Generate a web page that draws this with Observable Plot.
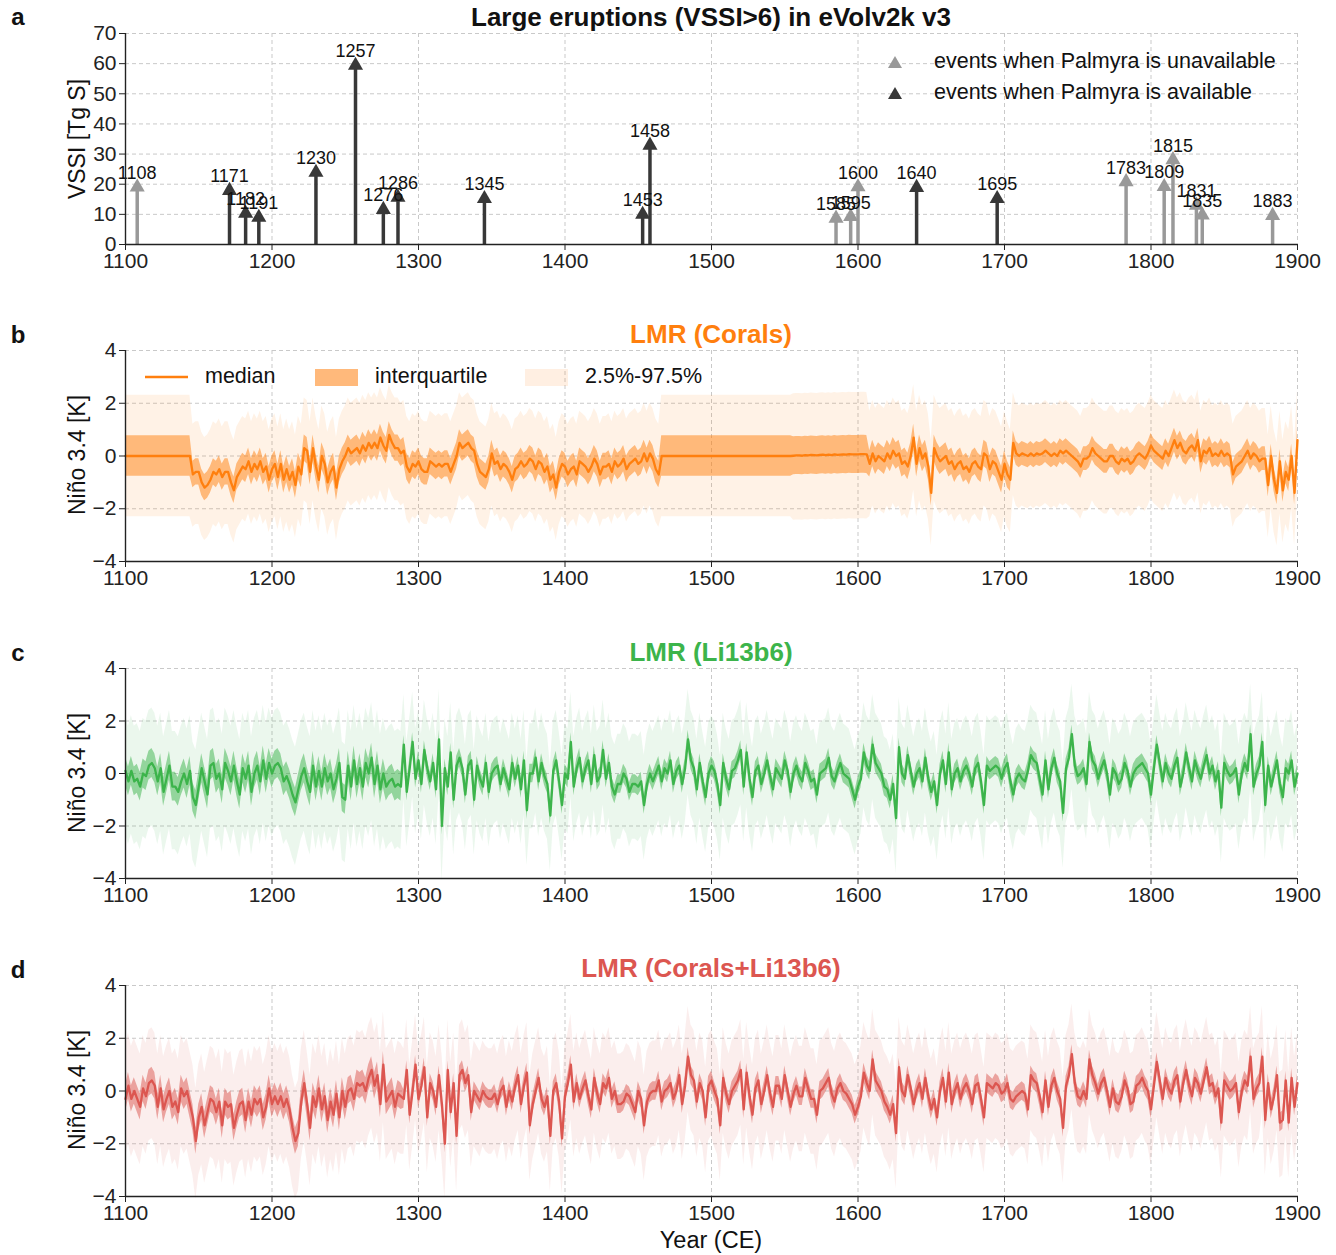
<!DOCTYPE html>
<html><head><meta charset="utf-8">
<script src="https://cdn.jsdelivr.net/npm/d3@7"></script>
<script src="https://cdn.jsdelivr.net/npm/@observablehq/plot@0.6"></script>
<style>
body{margin:0;background:#fff;font-family:"Liberation Sans",Arial,Helvetica,sans-serif;}
#root{position:relative;width:1336px;height:1255px;overflow:hidden;background:#fff;}
.abs{position:absolute;white-space:nowrap;line-height:1;}
.panel{position:absolute;left:0;}
.plabel{font-weight:bold;font-size:24px;color:#111;transform:translate(-50%,-50%);}
.title{font-weight:bold;font-size:26px;transform:translate(-50%,-50%);}
.ylab{font-size:23px;color:#111;transform:translate(-50%,-50%) rotate(-90deg);}
.leg{font-size:21.5px;color:#111;transform:translateY(-50%);}
.xlab{font-size:23.5px;color:#111;transform:translate(-50%,-50%);}
</style></head><body><div id="root"></div>
<script>
// ---------- Panel a: large eruptions ----------
const eruptYears = [1108,1171,1182,1191,1230,1257,1276,1286,1345,1453,1458,1585,1595,1600,1640,1695,1783,1809,1815,1831,1835,1883];
const eruptVSSI  = [19.0,17.9,10.3,9.0,23.9,59.4,11.6,15.6,15.2,10.0,32.9,8.7,9.2,19.1,18.9,15.2,20.8,19.2,28.1,13.0,9.7,9.6];
const palmyraAvailable = [false,true,true,true,true,true,true,true,true,true,true,false,false,false,true,true,false,false,false,false,false,false];

// ---------- Time axis for reconstructions (every 2 years) ----------
const yearStart = 1100, yearEnd = 1900, yearStep = 2;
const xTicks = [1100,1200,1300,1400,1500,1600,1700,1800,1900];
const yTicksA = [0,10,20,30,40,50,60,70];
const yTicksN = [-4,-2,0,2,4];

// LMR (Corals) median
const coralsMedian = [
0,0,0,0,0, 0,0,0,0,0, 0,0,0,0,0, 0,0,0,0,0, 0,0,0,-0.7,-0.6,
-0.6,-1.0,-1.2,-1.1,-0.9, -0.6,-0.7,-0.5,-0.8,-0.6, -0.6,-1.0,-1.3,-0.8,-0.6, -0.4,-0.5,-0.2,-0.6,-0.3, -0.5,-0.2,-0.6,-0.4,-0.9,
-0.5,-0.3,-0.8,-0.3,-0.9, -0.5,-0.9,-0.6,-1.1,-0.4, -0.7,0.3,0.2,-0.6,0.3, -0.4,-0.9,0.0,-0.3,-1.0, -0.6,-0.4,-1.2,-0.5,-0.2,
0.0,0.3,0.1,0.2,0.3, 0.1,0.4,0.2,0.5,0.3, 0.5,0.3,0.7,0.4,0.2, 0.8,0.5,0.3,0.3,0.1, 0.2,-0.4,-0.6,-0.3,-0.4,
-0.2,-0.5,-0.6,-0.6,-0.2, -0.3,-0.4,-0.3,-0.4,-0.3, -0.3,-0.6,-0.3,0.0,0.5, 0.3,0.4,0.5,0.3,0.2, -0.3,-0.6,-0.7,-0.8,-0.5,
0.1,-0.3,-0.2,-0.5,-0.3, -0.4,-0.6,-0.9,-0.5,-0.4, -0.2,-0.4,-0.3,-0.1,-0.2, -0.5,-0.2,-0.3,-0.6,-0.4, -0.9,-0.7,-1.2,-0.6,-0.3,
-0.4,-0.7,-0.5,-0.4,-0.7, -0.2,-0.3,-0.4,-0.6,-0.4, -0.1,-0.3,-0.7,-0.4,-0.4, -0.3,-0.6,-0.2,-0.4,-0.3, -0.1,-0.5,-0.3,-0.2,-0.1,
-0.3,-0.2,0.1,-0.2,0.1, -0.1,-0.5,-0.7,0,0,
0,0,0,0,0, 0,0,0,0,0, 0,0,0,0,0, 0,0,0,0,0, 0,0,0,0,0, 0,0,0,0,0, 0,0,0,0,0, 0,0,0,0,0,
0,0,0,0.01,0.02, 0.02,0.01,0.03,0.02,0.04, 0.03,0.02,0.04,0.05,0.03, 0.05,0.03,0.06,0.04,0.05, 0.06,0.05,0.07,0.06,0.06,
0.06,0.07,0.07,0.06,-0.3, 0.1,-0.2,0.0,-0.1,-0.2, 0.1,-0.1,0.2,0.0,0.1, -0.3,-0.2,-0.4,0.0,0.7, -0.3,0.3,-0.1,0.1,-0.4,
-1.4,0.3,0.0,-0.2,-0.1, 0.0,-0.3,-0.2,-0.5,-0.3, -0.2,-0.5,-0.4,-0.6,-0.3, -0.2,-0.4,-0.5,0.1,0.0, -0.5,-0.2,-0.3,-0.6,-0.9,
-0.3,-0.7,-0.9,0.5,0.1, 0.0,0.1,0.05,0.0,0.1, 0.0,0.1,0.05,0.1,0.2, 0.1,0.0,0.1,0.0,0.2, 0.1,0.2,0.1,0.0,-0.1,
-0.2,-0.4,-0.1,-0.1,0.0, 0.3,0.1,0.0,-0.1,-0.2, -0.2,0.0,0.0,-0.2,-0.3, -0.1,-0.2,-0.1,-0.3,-0.2, 0.0,0.1,0.0,-0.1,0.1,
0.4,0.2,0.1,0.0,-0.1, 0.2,0.0,0.3,0.6,0.3, 0.5,0.2,0.1,0.3,0.4, 0.2,0.6,-0.2,0.2,0.1, 0.3,0.0,0.1,0.0,0.2,
0.0,0.1,0.0,-0.7,-0.4, -0.3,-0.2,0.0,0.2,-0.1, 0.1,0.0,-0.2,-0.1,-0.1, -1.1,0.0,-0.9,-1.4,-0.2, -1.3,-0.6,-0.9,0.0,-1.4,
0.6];
// Corals band half-widths by period (start years)
const coralsSegStart = [1100,1146,1466,1556,1608,1704];
const coralsIqrHalf  = [0.77,0.5,0.77,0.72,0.5,0.45];
const coralsHi95     = [2.3,1.9,2.3,2.35,2.0,1.9];
const coralsLo95     = [2.3,2.0,2.3,2.45,2.0,2.0];

// LMR (Li13b6) median
const liMedian = [
0.1,-0.3,0.1,-0.3,-0.2, -0.5,0.0,-0.1,0.3,0.4, 0.2,-0.3,0.2,-0.7,-0.2, 0.3,-0.5,-0.5,-0.7,-0.3, 0.0,-0.4,0.1,-0.9,-1.2,
-0.5,0.2,-0.3,-0.8,0.3, 0.4,-0.2,0.0,-0.6,0.4, 0.1,-0.3,0.3,-0.3,-0.8, 0.2,-0.2,0.3,-0.7,0.0, 0.3,-0.3,0.5,-0.2,0.4,
0.0,0.3,0.4,0.2,-0.3, -0.1,-0.4,-0.8,-1.1,-0.6, -0.1,0.2,-0.3,-0.7,0.3, -0.5,0.1,-0.5,0.2,-0.3, 0.0,-0.6,-0.2,0.4,-0.9,
-1.0,0.3,-0.5,0.5,-0.4, 0.2,-0.5,0.4,0.0,0.6, -0.4,0.3,-0.6,0.0,-0.5, -0.3,-0.2,-0.5,-0.4,-0.5, 1.1,-0.7,0.2,1.2,-0.2,
0.5,-0.4,0.9,0.2,-0.3, 0.4,-0.6,1.3,-2.0,0.2, -0.5,0.8,-1.0,0.3,0.6, 0.2,-0.8,0.3,0.5,-1.0, 0.3,-0.2,-0.5,0.4,-0.7,
0.0,0.2,0.3,-0.4,0.2, -0.2,-0.6,0.4,-0.2,0.3, -0.6,0.5,-1.4,0.0,0.0, 0.6,-0.3,0.4,-0.1,-0.4, -1.6,0.1,0.5,-0.3,-1.2,
0.0,-0.2,1.2,-0.5,0.2, 0.6,-0.3,0.2,0.5,-0.4, 0.7,-0.3,-0.1,0.9,-0.2, 0.4,-0.5,-0.8,-0.4,-0.4, 0.0,-0.2,-0.7,-0.4,-0.4,
-0.5,-0.3,-1.2,-0.4,0.0, -0.3,0.0,0.3,-0.3,0.2, 0.0,0.5,-0.4,0.1,0.3, -0.4,0.2,1.3,0.5,0.2, -0.6,0.4,-0.3,-0.9,0.0,
0.3,0.1,-0.4,-1.2,0.4, -0.2,-0.6,0.1,0.2,0.5, 0.9,-0.5,0.8,-0.2,-0.9, 0.1,0.3,-0.4,0.0,0.5, -0.1,-0.6,0.2,0.0,-0.2,
0.5,0.1,-0.7,0.0,0.3, -0.1,-0.3,0.4,0.1,-0.3, -0.2,-0.8,0.0,0.1,0.2, 0.6,-0.1,-0.3,0.1,0.4, 0.0,-0.1,-0.2,-0.6,-1.0,
-0.5,-0.2,0.8,0.3,0.1, 1.1,0.4,0.2,0.0,-0.5, -0.6,-1.0,-0.4,-1.7,1.0, 0.0,-0.2,0.7,0.1,-0.5, 0.0,0.2,-0.3,0.6,-0.2,
-0.7,-0.3,-1.2,0.0,0.5, -0.4,0.8,-0.6,0.0,0.2, -0.3,0.1,0.3,0.0,-0.5, 0.2,0.4,-0.3,-1.2,0.3, 0.1,0.2,0.3,0.2,-0.2,
0.2,0.4,-0.3,-0.8,-0.2, 0.0,-0.2,-0.3,0.1,0.7, 0.5,0.4,-0.2,-0.8,0.5, -0.6,0.2,0.6,0.0,-0.3, -1.5,0.2,0.6,1.5,0.3,
-0.1,0.0,0.2,-0.4,1.2, 0.5,0.3,-0.2,0.2,0.5, 0.0,-0.8,0.2,0.0,-0.4, -0.2,0.4,0.1,-0.5,0.0, 0.2,0.3,0.4,0.2,0.0,
-0.8,0.2,1.1,0.4,-0.3, 0.4,0.0,-0.2,0.3,0.6, -0.5,0.0,0.8,0.2,-0.3, 0.5,0.1,-0.2,0.3,0.7, 0.0,0.3,-0.3,0.1,-1.3,
0.4,0.1,-0.1,0.0,0.2, -0.8,0.0,0.4,0.1,1.5, -0.5,0.0,0.3,1.2,-1.2, 0.3,-0.5,0.0,0.5,-0.4, -0.9,0.2,0.0,0.5,-0.5,
0.0];
const liSegStart = [1100,1290];
const liIqrHalf  = [0.55,0.35];
const liHi95     = [2.1,1.9];
const liLo95     = [2.4,2.1];

// LMR (Corals+Li13b6) median
const bothMedian = [
-0.3,0.2,-0.3,0.0,-0.3, -0.6,0.1,-0.2,0.3,0.4, 0.2,-0.6,0.1,-0.7,-0.3, 0.0,-0.6,-0.4,-0.8,0.1, -0.2,0.0,-0.5,-1.0,-1.9,
-1.0,-0.6,-1.3,-0.8,-0.3, -0.4,-0.8,-0.4,-1.3,-0.4, -0.6,-0.5,-1.4,-0.9,-0.5, -0.4,-1.1,-0.4,-0.9,-0.3, -0.5,-0.3,-1.0,-0.6,0.1,
-0.5,-0.2,-0.5,-0.2,-0.6, -0.3,-0.7,-1.4,-1.9,-1.6, -0.4,0.3,-0.5,-1.4,-0.2, -0.6,0.1,-0.7,-0.2,-1.1, -0.4,-0.9,-0.1,-1.0,0.0,
-0.6,0.0,0.1,-0.3,0.3, 0.2,0.3,0.0,0.5,0.8, 0.2,0.6,-0.5,1.0,-0.4, -0.2,0.0,-0.6,-0.1,-0.2, -0.3,0.8,-0.9,0.0,1.0,
-0.3,0.2,0.9,-1.0,0.3, 0.0,-0.6,0.6,-0.5,-2.0, 0.8,-0.8,0.3,-1.7,0.6, 0.8,0.3,0.6,-0.8,0.0, -0.2,-0.4,0.0,-0.2,-0.3,
-0.3,-0.1,-0.5,0.0,0.2, -0.6,0.0,-0.4,0.2,0.6, -0.5,0.2,0.7,-1.3,-0.5, 0.0,0.5,-0.3,-0.6,-0.2, -1.7,0.0,0.3,-0.4,-1.8,
-0.2,0.3,1.0,-0.4,0.3, -0.3,0.1,0.4,-0.2,-0.7, 0.5,-0.1,-0.5,0.3,0.1, 0.5,-0.3,0.0,-0.5,-0.5, -0.4,-0.1,-0.2,-0.5,-0.8,
0.0,-0.3,-1.3,-0.4,-0.1, 0.0,0.0,0.4,-0.4,0.0, 0.1,0.3,-0.3,0.0,0.6, -0.5,0.2,1.3,0.6,0.4, -0.4,0.3,0.0,-1.0,0.2,
0.4,0.0,-0.3,-1.3,0.5, -0.1,-0.5,0.0,0.2,0.4, 0.8,-0.7,0.7,-0.2,-0.9, 0.1,0.4,-0.5,0.0,0.6, -0.1,-0.6,0.2,0.2,-0.3,
0.6,0.0,-0.6,-0.1,0.2, -0.2,-0.2,0.5,0.1,-0.3, -0.3,-0.9,0.0,0.1,0.3, 0.5,-0.1,-0.4,0.1,0.3, 0.0,-0.1,-0.3,-0.5,-0.9,
-0.6,-0.2,0.7,0.3,0.0, 1.2,0.4,0.2,0.0,-0.4, -0.6,-0.9,-0.5,-1.6,0.9, 0.0,-0.2,0.6,0.1,-0.5, 0.0,0.3,-0.3,0.5,-0.2,
-0.7,-0.3,-1.0,0.0,0.5, -0.4,0.7,-0.5,0.0,0.3, -0.3,0.1,0.3,0.0,-0.5, 0.2,0.3,-0.3,-1.0,0.3, 0.2,0.1,0.3,0.2,-0.1,
0.0,0.3,-0.3,-0.4,-0.2, -0.1,0.0,-0.1,-0.7,0.6, 0.4,0.3,-0.2,-0.8,0.4, -0.6,0.2,0.5,0.0,-0.3, -1.4,0.2,0.6,1.4,0.3,
-0.2,-0.3,0.0,-0.3,1.2, 0.6,0.3,-0.1,0.3,0.5, 0.0,-0.6,0.1,-0.4,-0.5, -0.2,0.4,0.1,-0.5,-0.4, 0.2,0.3,0.5,0.2,0.0,
-0.7,0.2,1.1,0.4,-0.3, 0.5,0.1,-0.1,0.4,0.6, -0.4,0.3,0.8,0.2,-0.2, 0.5,0.3,-0.1,0.4,0.9, 0.2,0.3,-0.2,0.1,-1.2,
0.4,0.2,0.0,0.1,0.3, -0.8,0.0,0.4,0.2,1.3, -0.3,0.1,0.3,1.3,-1.1, 0.3,-0.7,-0.2,0.6,-1.2, -1.1,0.4,-1.2,0.5,-0.6,
0.3];
const bothSegStart = [1100,1290];
const bothIqrHalf  = [0.5,0.35];
const bothHi95     = [2.0,1.9];
const bothLo95     = [2.2,2.1];

// ---------- colours ----------
const orange = "#ff7f0e", green = "#3cb44b", red = "#dc5650";
const grayEvt = "#999999", darkEvt = "#383838";
const FONT = "'Liberation Sans', Arial, Helvetica, sans-serif";
const TICK_FS = 21;

// ---------- build tables ----------
const years = d3.range(yearStart, yearEnd + 1, yearStep);
function buildRows(med, segStart, iqr, hi95, lo95) {
  return years.map((yr, i) => {
    const s = d3.bisectRight(segStart, yr) - 1;
    const m = med[i];
    return {year: yr, med: m, q25: m - iqr[s], q75: m + iqr[s], p025: m - lo95[s], p975: m + hi95[s]};
  });
}
const events = eruptYears.map((y, i) => ({year: y, vssi: eruptVSSI[i], avail: palmyraAvailable[i]}));

const root = document.getElementById("root");
function place(el, top) { el.classList.add("panel"); el.style.top = top + "px"; root.appendChild(el); }
function addText(cls, txt, x, y, color) {
  const d = document.createElement("div");
  d.className = "abs " + cls; d.textContent = txt;
  d.style.left = x + "px"; d.style.top = y + "px";
  if (color) d.style.color = color;
  root.appendChild(d); return d;
}
const gridStyle = {stroke: "#c9c9c9", strokeOpacity: 1, strokeDasharray: "4,3", strokeWidth: 1};
const baseStyle = {fontFamily: FONT, fontSize: TICK_FS + "px", color: "#222", background: "transparent", overflow: "visible"};

// ---------- Panel a ----------
const plotA = Plot.plot({
  width: 1336, height: 280, marginLeft: 125, marginRight: 39, marginTop: 33, marginBottom: 36,
  style: baseStyle,
  x: {domain: [1100, 1900]}, y: {domain: [0, 70]},
  marks: [
    Plot.gridX(xTicks, gridStyle),
    Plot.gridY(yTicksA, gridStyle),
    Plot.ruleX(events.filter(d => !d.avail), {x: "year", y1: 0, y2: "vssi", stroke: grayEvt, strokeWidth: 3.5}),
    Plot.ruleX(events.filter(d => d.avail), {x: "year", y1: 0, y2: "vssi", stroke: darkEvt, strokeWidth: 3.5}),
    Plot.dot(events.filter(d => !d.avail), {x: "year", y: "vssi", symbol: "triangle", r: 5.6, fill: grayEvt, stroke: "none"}),
    Plot.dot(events.filter(d => d.avail), {x: "year", y: "vssi", symbol: "triangle", r: 5.6, fill: darkEvt, stroke: "none"}),
    Plot.text(events, {x: "year", y: "vssi", text: d => String(d.year), dy: -14, fontSize: 18, fill: "#111"}),
    Plot.ruleX([1100], {stroke: "#222", strokeWidth: 1.4}),
    Plot.ruleY([0], {stroke: "#222", strokeWidth: 1.4}),
    Plot.axisX(xTicks, {tickSize: 6, tickPadding: 3, tickFormat: "d", label: null, fontSize: TICK_FS}),
    Plot.axisY(yTicksA, {tickSize: 6, tickPadding: 3, label: null, fontSize: TICK_FS})
  ]
});
place(plotA, 0);

// ---------- series panels ----------
function seriesPlot(rows, color, h, mt, mb) {
  return Plot.plot({
    width: 1336, height: h, marginLeft: 125, marginRight: 39, marginTop: mt, marginBottom: mb,
    style: baseStyle,
    x: {domain: [1100, 1900]}, y: {domain: [-4, 4]},
    marks: [
      Plot.gridX(xTicks, gridStyle),
      Plot.gridY(yTicksN, gridStyle),
      Plot.areaY(rows, {x: "year", y1: "p025", y2: "p975", fill: color, fillOpacity: 0.1}),
      Plot.areaY(rows, {x: "year", y1: "q25", y2: "q75", fill: color, fillOpacity: 0.5}),
      Plot.line(rows, {x: "year", y: "med", stroke: color, strokeWidth: 2.3}),
      Plot.ruleX([1100], {stroke: "#222", strokeWidth: 1.4}),
      Plot.ruleY([-4], {stroke: "#222", strokeWidth: 1.4}),
      Plot.axisX(xTicks, {tickSize: 6, tickPadding: 3, tickFormat: "d", label: null, fontSize: TICK_FS}),
      Plot.axisY(yTicksN, {tickSize: 6, tickPadding: 3, label: null, fontSize: TICK_FS})
    ]
  });
}
place(seriesPlot(buildRows(coralsMedian, coralsSegStart, coralsIqrHalf, coralsHi95, coralsLo95), orange, 300, 50, 39), 300);
place(seriesPlot(buildRows(liMedian, liSegStart, liIqrHalf, liHi95, liLo95), green, 300, 48, 42), 620);
place(seriesPlot(buildRows(bothMedian, bothSegStart, bothIqrHalf, bothHi95, bothLo95), red, 320, 50, 59), 935);

// ---------- text: panel letters, titles, axis labels ----------
addText("plabel", "a", 18, 17);
addText("plabel", "b", 18, 335);
addText("plabel", "c", 18, 653);
addText("plabel", "d", 18, 970);
addText("title", "Large eruptions (VSSI>6) in eVolv2k v3", 711, 17, "#111");
addText("title", "LMR (Corals)", 711, 334, orange);
addText("title", "LMR (Li13b6)", 711, 652, green);
addText("title", "LMR (Corals+Li13b6)", 711, 968, red);
addText("ylab", "VSSI [Tg S]", 77, 139);
addText("ylab", "Niño 3.4 [K]", 77, 455);
addText("ylab", "Niño 3.4 [K]", 77, 773);
addText("ylab", "Niño 3.4 [K]", 77, 1090);
addText("xlab", "Year (CE)", 711, 1241);

// ---------- legends ----------
function svgSym(html, x, y, w, h) {
  const d = document.createElement("div");
  d.className = "abs"; d.style.left = x + "px"; d.style.top = y + "px";
  d.innerHTML = `<svg width="${w}" height="${h}" style="display:block">${html}</svg>`;
  root.appendChild(d);
}
svgSym(`<polygon points="7,0 14,12 0,12" fill="${grayEvt}"/>`, 888, 56, 14, 12);
svgSym(`<polygon points="7,0 14,12 0,12" fill="${darkEvt}"/>`, 888, 87, 14, 12);
addText("leg", "events when Palmyra is unavailable", 934, 62);
addText("leg", "events when Palmyra is available", 934, 93);

svgSym(`<line x1="0" y1="2" x2="43" y2="2" stroke="${orange}" stroke-width="2.3"/>`, 145, 375, 43, 4);
svgSym(`<rect width="43" height="17" fill="${orange}" fill-opacity="0.55"/>`, 315, 369, 43, 17);
svgSym(`<rect width="43" height="17" fill="${orange}" fill-opacity="0.12"/>`, 525, 369, 43, 17);
addText("leg", "median", 205, 377);
addText("leg", "interquartile", 375, 377);
addText("leg", "2.5%-97.5%", 585, 377);
</script></body></html>
